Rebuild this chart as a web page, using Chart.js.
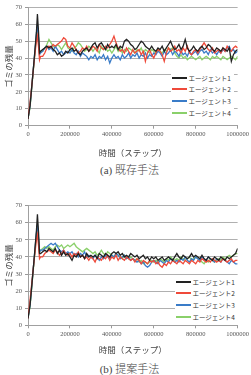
<!DOCTYPE html>
<html>
<head>
<meta charset="utf-8">
<script src="https://cdn.jsdelivr.net/npm/chart.js@4/dist/chart.umd.min.js"></script>
<style>
  body { margin: 0; background: #fff; width: 251px; height: 375px; position: relative; overflow: hidden; }
  .wrap { position: absolute; left: 0; width: 251px; height: 160px; }
  .legend { position: absolute; background: #fff; padding: 0 3px 0 1px; }
  .legend .row { display: flex; align-items: center; height: 11.8px; }
  .legend .mark { width: 15px; height: 0; border-top: 2px solid; margin-right: 1.5px; }
  .legend .txt { font: 6.5px 'Noto Sans CJK JP', sans-serif; color: #333; white-space: nowrap; }
  .caption { position: absolute; left: 0; width: 251px; text-align: center; padding-left: 8px; box-sizing: border-box;
             font: 300 11px 'Liberation Serif', 'Noto Sans CJK JP', serif; color: #444; line-height: 14px; }
</style>
</head>
<body>
<div class="wrap" id="wrapA" style="top:0px"><canvas id="chartA"></canvas></div>
<div class="legend" id="legendA" style="left:171px; top:71.8px"></div>
<div class="caption" style="top:163px">(a) 既存手法</div>

<div class="wrap" id="wrapB" style="top:195px"><canvas id="chartB"></canvas></div>
<div class="legend" id="legendB" style="left:175px; top:275.8px"></div>
<div class="caption" style="top:362px">(b) 提案手法</div>

<script>
// x values (steps)
const steps = [
  0, 10000, 20000, 30000, 40000, 45000, 50000, 55000, 60000,
  70000, 80000, 90000, 100000,
  110000, 120000, 130000, 140000, 150000, 160000, 170000, 180000, 190000, 200000,
  210000, 220000, 230000, 240000, 250000, 260000, 270000, 280000, 290000, 300000,
  310000, 320000, 330000, 340000, 350000, 360000, 370000, 380000, 390000, 400000,
  410000, 420000, 430000, 440000, 450000, 460000, 470000, 480000, 490000, 500000,
  510000, 520000, 530000, 540000, 550000, 560000, 570000, 580000, 590000, 600000,
  610000, 620000, 630000, 640000, 650000, 660000, 670000, 680000, 690000, 700000,
  710000, 720000, 730000, 740000, 750000, 760000, 770000, 780000, 790000, 800000,
  810000, 820000, 830000, 840000, 850000, 860000, 870000, 880000, 890000, 900000,
  910000, 920000, 930000, 940000, 950000, 960000, 970000, 980000, 990000, 1000000
];

const agentNames = ['エージェント1', 'エージェント2', 'エージェント3', 'エージェント4'];
const agentColors = ['#222222', '#ef4a3a', '#3a7cc8', '#8ad06a'];

// (a) 既存手法
const a_agent1 = [
  4, 12, 26, 40, 55, 66, 56, 43, 44,
  45, 46, 47, 46,
  47, 45, 44, 42, 43, 41, 42, 44, 43, 45,
  46, 44, 45, 43, 42, 44, 45, 46, 44, 46,
  48, 49, 46, 48, 49, 47, 45, 48, 46, 47,
  46, 48, 45, 47, 46, 50, 51, 50, 48, 47,
  45, 46, 48, 50, 49, 47, 46, 45, 47, 45,
  44, 46, 45, 47, 44, 46, 48, 50, 47, 45,
  46, 48, 45, 47, 51, 46, 44, 45, 47, 45,
  44, 46, 47, 45, 46, 48, 47, 45, 44, 46,
  45, 44, 46, 45, 44, 46, 38, 42, 44, 45
];
const a_agent2 = [
  4, 14, 26, 39, 50, 53, 47, 39, 41,
  41, 43, 46, 47,
  46, 48, 47, 48, 49, 50, 52, 51, 47, 46,
  49, 47, 45, 43, 44, 46, 45, 47, 44, 45,
  47, 46, 44, 48, 46, 45, 47, 46, 48, 50,
  53, 49, 46, 44, 45, 43, 46, 44, 42, 45,
  43, 44, 45, 42, 44, 38, 43, 45, 42, 40,
  43, 45, 44, 42, 38, 43, 46, 44, 45, 47,
  44, 45, 43, 46, 44, 47, 43, 42, 44, 45,
  43, 45, 47, 49, 47, 45, 44, 46, 43, 44,
  45, 43, 46, 44, 47, 45, 44, 46, 47, 46
];
const a_agent3 = [
  4, 12, 26, 40, 54, 60, 52, 42, 43,
  44, 46, 47, 45,
  46, 44, 47, 45, 43, 44, 42, 43, 44, 43,
  45, 43, 42, 44, 41, 43, 42, 41, 39, 41,
  40, 42, 39, 41, 40, 42, 39, 41, 37, 40,
  42, 40, 41, 39, 42, 40, 41, 43, 40, 42,
  41, 43, 40, 42, 41, 43, 40, 42, 41, 43,
  42, 44, 43, 41, 44, 42, 43, 45, 42, 44,
  43, 41, 44, 42, 43, 41, 44, 42, 43, 44,
  42, 44, 45, 43, 44, 42, 45, 43, 44, 42,
  44, 43, 45, 44, 46, 47, 44, 45, 43, 44
];
const a_agent4 = [
  4, 11, 25, 39, 53, 59, 52, 43, 44,
  44, 46, 48, 51,
  49, 47, 46, 48, 47, 45, 47, 49, 46, 45,
  44, 46, 47, 49, 48, 46, 44, 45, 47, 46,
  44, 46, 45, 43, 47, 45, 46, 44, 45, 43,
  45, 47, 44, 46, 43, 45, 44, 46, 45, 44,
  43, 45, 44, 46, 43, 45, 44, 43, 45, 44,
  43, 45, 44, 43, 45, 44, 46, 45, 46, 43,
  41, 40, 42, 40, 41, 39, 40, 41, 40, 39,
  40, 41, 39, 40, 41, 40, 39, 41, 40, 41,
  40, 39, 41, 40, 39, 40, 41, 40, 39, 41
];

// (b) 提案手法
const b_agent1 = [
  4, 12, 26, 40, 55, 65, 55, 42, 42,
  43, 44, 43, 45,
  44, 43, 45, 42, 44, 41, 43, 41, 42, 40,
  38, 41, 40, 42, 40, 41, 39, 42, 40, 41,
  40, 41, 39, 42, 41, 40, 42, 41, 40, 42,
  43, 42, 43, 41, 42, 40, 41, 40, 42, 41,
  40, 41, 39, 40, 41, 39, 40, 38, 40, 39,
  40, 38, 39, 40, 38, 39, 40, 39, 38, 40,
  42, 40, 39, 41, 40, 39, 40, 42, 40, 41,
  40, 39, 41, 39, 38, 40, 39, 38, 40, 39,
  38, 40, 39, 38, 40, 39, 40, 41, 42, 45
];
const b_agent2 = [
  4, 15, 27, 39, 50, 53, 47, 39, 40,
  40, 42, 43, 44,
  43, 42, 44, 43, 41, 42, 44, 42, 41, 42,
  40, 42, 41, 43, 40, 41, 39, 40, 38, 40,
  39, 37, 40, 39, 38, 40, 39, 41, 38, 40,
  39, 41, 38, 40, 39, 38, 40, 39, 38, 39,
  37, 39, 38, 36, 38, 37, 36, 38, 37, 38,
  36, 37, 35, 34, 36, 35, 37, 36, 38, 37,
  36, 38, 37, 36, 38, 37, 36, 38, 37, 36,
  38, 37, 39, 38, 37, 38, 37, 39, 38, 37,
  38, 37, 39, 38, 37, 38, 39, 37, 38, 38
];
const b_agent3 = [
  4, 12, 26, 40, 54, 59, 51, 43, 44,
  44, 45, 46, 47,
  48, 47, 48, 46, 44, 43, 44, 42, 43, 42,
  43, 41, 42, 40, 42, 41, 43, 40, 41, 40,
  39, 41, 40, 38, 40, 39, 41, 40, 39, 41,
  40, 42, 41, 39, 40, 41, 39, 40, 38, 39,
  38, 37, 38, 36, 37, 35, 34, 35, 37, 38,
  37, 36, 38, 37, 36, 38, 37, 39, 38, 37,
  38, 37, 39, 38, 40, 38, 37, 39, 38, 40,
  39, 38, 40, 39, 38, 40, 39, 38, 37, 39,
  38, 37, 39, 38, 37, 36, 38, 37, 36, 36
];
const b_agent4 = [
  4, 11, 25, 39, 53, 58, 51, 43, 44,
  45, 46, 45, 46,
  45, 44, 46, 47, 46, 47, 45, 46, 47, 46,
  47, 48, 46, 45, 44, 43, 44, 45, 44, 43,
  42, 43, 41, 42, 44, 42, 41, 43, 42, 41,
  40, 42, 41, 40, 39, 41, 40, 39, 40, 39,
  38, 39, 37, 38, 36, 37, 36, 37, 38, 37,
  38, 37, 39, 38, 37, 39, 38, 40, 39, 38,
  39, 38, 40, 39, 38, 39, 40, 38, 39, 40,
  39, 38, 37, 36, 38, 37, 39, 38, 37, 38,
  39, 38, 40, 39, 40, 41, 40, 41, 42, 42
];

const serifFont = "'Liberation Serif', serif";
const sansJP = "'Noto Sans CJK JP', sans-serif";

function makeChart(canvasId, legendId, series, pad, titlePadTop) {
  const ctx = document.getElementById(canvasId).getContext('2d');
  const datasets = series.map((vals, i) => ({
    label: agentNames[i],
    data: steps.map((s, k) => ({ x: s, y: vals[k] })),
    borderColor: agentColors[i],
    backgroundColor: agentColors[i],
    borderWidth: 1.3,
    pointRadius: 0,
    tension: 0,
    fill: false
  }));

  const chart = new Chart(ctx, {
    type: 'line',
    data: { datasets },
    options: {
      responsive: true,
      maintainAspectRatio: false,
      animation: false,
      layout: { padding: pad },
      plugins: { legend: { display: false }, tooltip: { enabled: false } },
      scales: {
        x: {
          type: 'linear',
          min: 0,
          max: 1000000,
          ticks: {
            stepSize: 200000,
            maxRotation: 0,
            padding: 2,
            color: '#555',
            font: { family: serifFont, size: 6.5 },
            callback: v => String(v)
          },
          grid: { drawOnChartArea: false, drawTicks: true, tickLength: 3, tickColor: '#999' },
          border: { color: '#a0a0a0' },
          title: {
            display: true,
            text: '時間（ステップ）',
            color: '#444',
            font: { family: sansJP, size: 8.5 },
            padding: { top: titlePadTop, bottom: 0 }
          }
        },
        y: {
          min: 0,
          max: 70,
          ticks: {
            stepSize: 10,
            padding: 3,
            color: '#555',
            font: { family: serifFont, size: 6.5 }
          },
          grid: { color: '#b0b0b0', lineWidth: 1, tickLength: 3, tickColor: '#999' },
          border: { color: '#a0a0a0' },
          afterFit: s => { s.width = 28; },
          title: {
            display: true,
            text: 'ゴミの残量',
            color: '#444',
            font: { family: sansJP, size: 8.5 },
            padding: { top: 4, bottom: 4 }
          }
        }
      }
    }
  });

  // html legend inside the plot
  const box = document.getElementById(legendId);
  chart.data.datasets.forEach(ds => {
    const row = document.createElement('div');
    row.className = 'row';
    const mark = document.createElement('span');
    mark.className = 'mark';
    mark.style.borderTopColor = ds.borderColor;
    const txt = document.createElement('span');
    txt.className = 'txt';
    txt.textContent = ds.label;
    row.appendChild(mark);
    row.appendChild(txt);
    box.appendChild(row);
  });
  return chart;
}

makeChart('chartA', 'legendA', [a_agent1, a_agent2, a_agent3, a_agent4],
  { top: 7.3, right: 0, bottom: 1.9, left: 0 }, 7.4);
makeChart('chartB', 'legendB', [b_agent1, b_agent2, b_agent3, b_agent4],
  { top: 10.7, right: 0, bottom: 0.6, left: 0 }, 4.1);
</script>
</body>
</html>
